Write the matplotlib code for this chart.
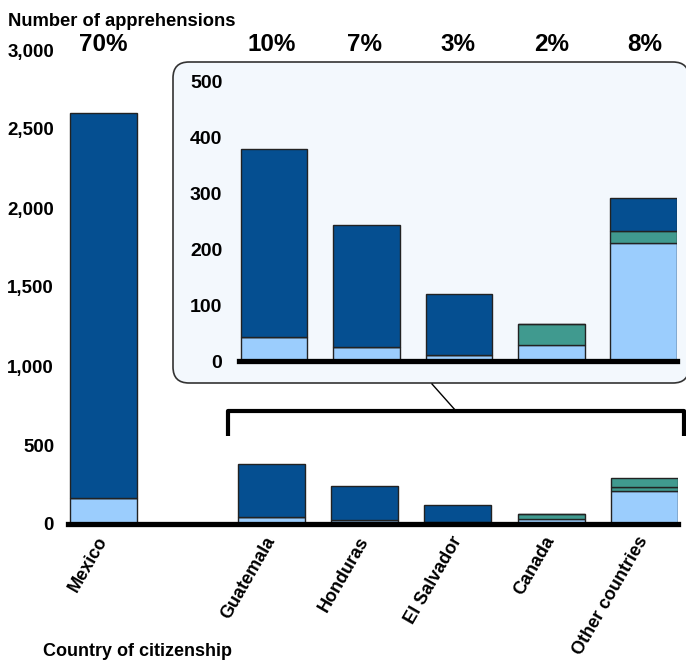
import matplotlib
matplotlib.use("Agg")
import matplotlib.pyplot as plt
from matplotlib.patches import FancyBboxPatch
from matplotlib.transforms import blended_transform_factory
import numpy as np

plt.rcParams["font.family"] = ["Liberation Sans", "DejaVu Sans"]
plt.rcParams["font.weight"] = "bold"

# --- Data (apprehensions by country of citizenship) ---
countries = ["Mexico", "Guatemala", "Honduras", "El Salvador", "Canada", "Other countries"]
shares = ["70%", "10%", "7%", "3%", "2%", "8%"]
light_vals = [165, 43, 25, 10, 29, 211]
teal_vals = [0, 0, 0, 0, 37, 21]
dark_vals = [2435, 336, 218, 110, 0, 59]

main_ticks = [0, 500, 1000, 1500, 2000, 2500, 3000]
inset_ticks = [0, 100, 200, 300, 400, 500]

c_dark = "#054F91"
c_light = "#9BCDFD"
c_teal = "#409A8F"
edge = "#222222"

W, H = 686, 661
fig = plt.figure(figsize=(W / 100, H / 100), dpi=100)


def px_axes(left, top, right, bottom, **kw):
    # axes placed by pixel corners
    return fig.add_axes([left / W, (H - bottom) / H, (right - left) / W, (bottom - top) / H], **kw)


# background layer in pixel coords for the callout box and bracket
ax_bg = fig.add_axes([0, 0, 1, 1], zorder=0)
ax_bg.set_xlim(0, W)
ax_bg.set_ylim(H, 0)
ax_bg.axis("off")
box = FancyBboxPatch((173, 62), 516, 321, boxstyle="round,pad=0,rounding_size=16",
                     fc="#F3F8FD", ec="#333333", lw=1.2)
ax_bg.add_patch(box)
ax_bg.plot([228, 228, 684, 684], [436, 411, 411, 436], color="black", lw=3,
           solid_joinstyle="round", solid_capstyle="butt")
ax_bg.plot([432, 456], [384, 411], color="black", lw=1)

# --- Main chart ---
pos = np.array([0, 1.8, 2.8, 3.8, 4.8, 5.8])
bw = 0.72
ax = px_axes(68, 50, 678, 524, zorder=1)
ax.set_facecolor("none")
light = np.array(light_vals)
teal = np.array(teal_vals)
dark = np.array(dark_vals)
ax.bar(pos, light, bw, color=c_light, edgecolor=edge, lw=1)
ax.bar(pos, teal, bw, bottom=light, color=c_teal, edgecolor=edge, lw=1)
top_bars = ax.bar(pos, dark, bw, bottom=light + teal, color=c_dark, edgecolor=edge, lw=1)
top_bars[-1].set_facecolor(c_teal)  # drawn teal in the main panel
ax.axhline(0, color="black", lw=3.8, zorder=5, clip_on=False)
ax.set_xlim(-0.38, 6.16)
ax.set_ylim(0, 3000)
ax.set_yticks(main_ticks)
ax.set_yticklabels([f"{t:,}" for t in main_ticks], fontsize=13.5, fontweight="bold")
ax.set_xticks(pos)
ax.set_xticklabels(countries, rotation=60, ha="right", va="center", rotation_mode="anchor",
                   fontsize=13, fontweight="bold")
ax.tick_params(axis="y", length=0, pad=10)
ax.tick_params(axis="x", length=0, pad=10)
for s in ax.spines.values():
    s.set_visible(False)

tr = blended_transform_factory(ax.transData, ax.transAxes)
for x, s in zip(pos, shares):
    ax.text(x, 1.012, s, transform=tr, ha="center", va="center", fontsize=17.5, fontweight="bold")

# --- Inset (zoom on smaller countries) ---
ax2 = px_axes(239, 81, 677, 361, zorder=2)
ax2.set_facecolor("none")
ipos = np.arange(5)
il, it, idk = light[1:], teal[1:], dark[1:]
ax2.bar(ipos, il, bw, color=c_light, edgecolor=edge, lw=1)
ax2.bar(ipos, it, bw, bottom=il, color=c_teal, edgecolor=edge, lw=1)
ax2.bar(ipos, idk, bw, bottom=il + it, color=c_dark, edgecolor=edge, lw=1)
ax2.axhline(0, color="black", lw=3.8, zorder=5, clip_on=False)
ax2.set_xlim(-0.38, 4.36)
ax2.set_ylim(0, 500)
ax2.set_yticks(inset_ticks)
ax2.set_yticklabels([str(t) for t in inset_ticks], fontsize=14, fontweight="bold")
ax2.set_xticks([])
ax2.tick_params(axis="y", length=0, pad=12)
for s in ax2.spines.values():
    s.set_visible(False)

fig.text(8 / W, 1 - 21 / H, "Number of apprehensions", ha="left", va="center",
         fontsize=13.2, fontweight="bold")
fig.text(43 / W, 1 / H, "Country of citizenship", ha="left", va="bottom",
         fontsize=13, fontweight="bold")

fig.savefig("out.png", dpi=100)
